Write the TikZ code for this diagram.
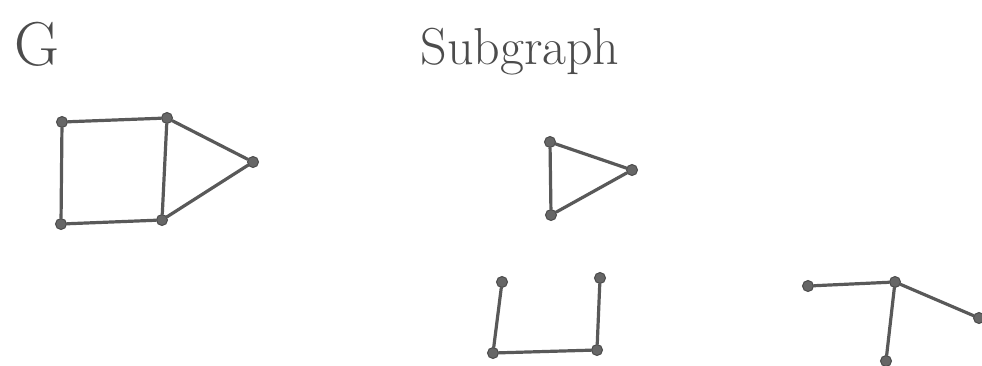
\documentclass[tikz,border=0pt]{standalone}
\usepackage{tikz}

\begin{document}
\begin{tikzpicture}[
  x=1pt,y=-1pt,
  vtx/.style={circle,fill=black!60,draw=black!70,line width=1pt,inner sep=0pt,minimum size=11pt},
  edge/.style={draw=black!65,line width=3.2pt,line cap=round},
  lbl/.style={text=black!70,inner sep=0pt,font=\fontsize{62}{70}\selectfont}
]
\useasboundingbox (0,0) rectangle (982,365);
% labels
\node[lbl] (gname) at (37,44) {G};
\node[lbl,font=\fontsize{52}{60}\selectfont] (subname) at (520,52) {Subgraph};

% graph G
\node[vtx] (a) at (62,122) {};
\node[vtx] (b) at (167,118) {};
\node[vtx] (c) at (253,162) {};
\node[vtx] (d) at (61,224) {};
\node[vtx] (e) at (162,220) {};
\draw[edge] (a) -- (b);
\draw[edge] (a) -- (d);
\draw[edge] (d) -- (e);
\draw[edge] (b) -- (e);
\draw[edge] (b) -- (c);
\draw[edge] (e) -- (c);

% subgraph: triangle
\node[vtx] (t1) at (550,142) {};
\node[vtx] (t2) at (632,170) {};
\node[vtx] (t3) at (551,215) {};
\draw[edge] (t1) -- (t2);
\draw[edge] (t2) -- (t3);
\draw[edge] (t1) -- (t3);

% subgraph: path of four
\node[vtx] (u1) at (502,282) {};
\node[vtx] (u2) at (493,353) {};
\node[vtx] (u3) at (597,350) {};
\node[vtx] (u4) at (600,278) {};
\draw[edge] (u1) -- (u2);
\draw[edge] (u2) -- (u3);
\draw[edge] (u3) -- (u4);

% subgraph: star
\node[vtx] (s1) at (808,286) {};
\node[vtx] (s2) at (895,282) {};
\node[vtx] (s3) at (979,318) {};
\node[vtx] (s4) at (886,361) {};
\draw[edge] (s1) -- (s2);
\draw[edge] (s2) -- (s3);
\draw[edge] (s2) -- (s4);
\end{tikzpicture}
\end{document}
